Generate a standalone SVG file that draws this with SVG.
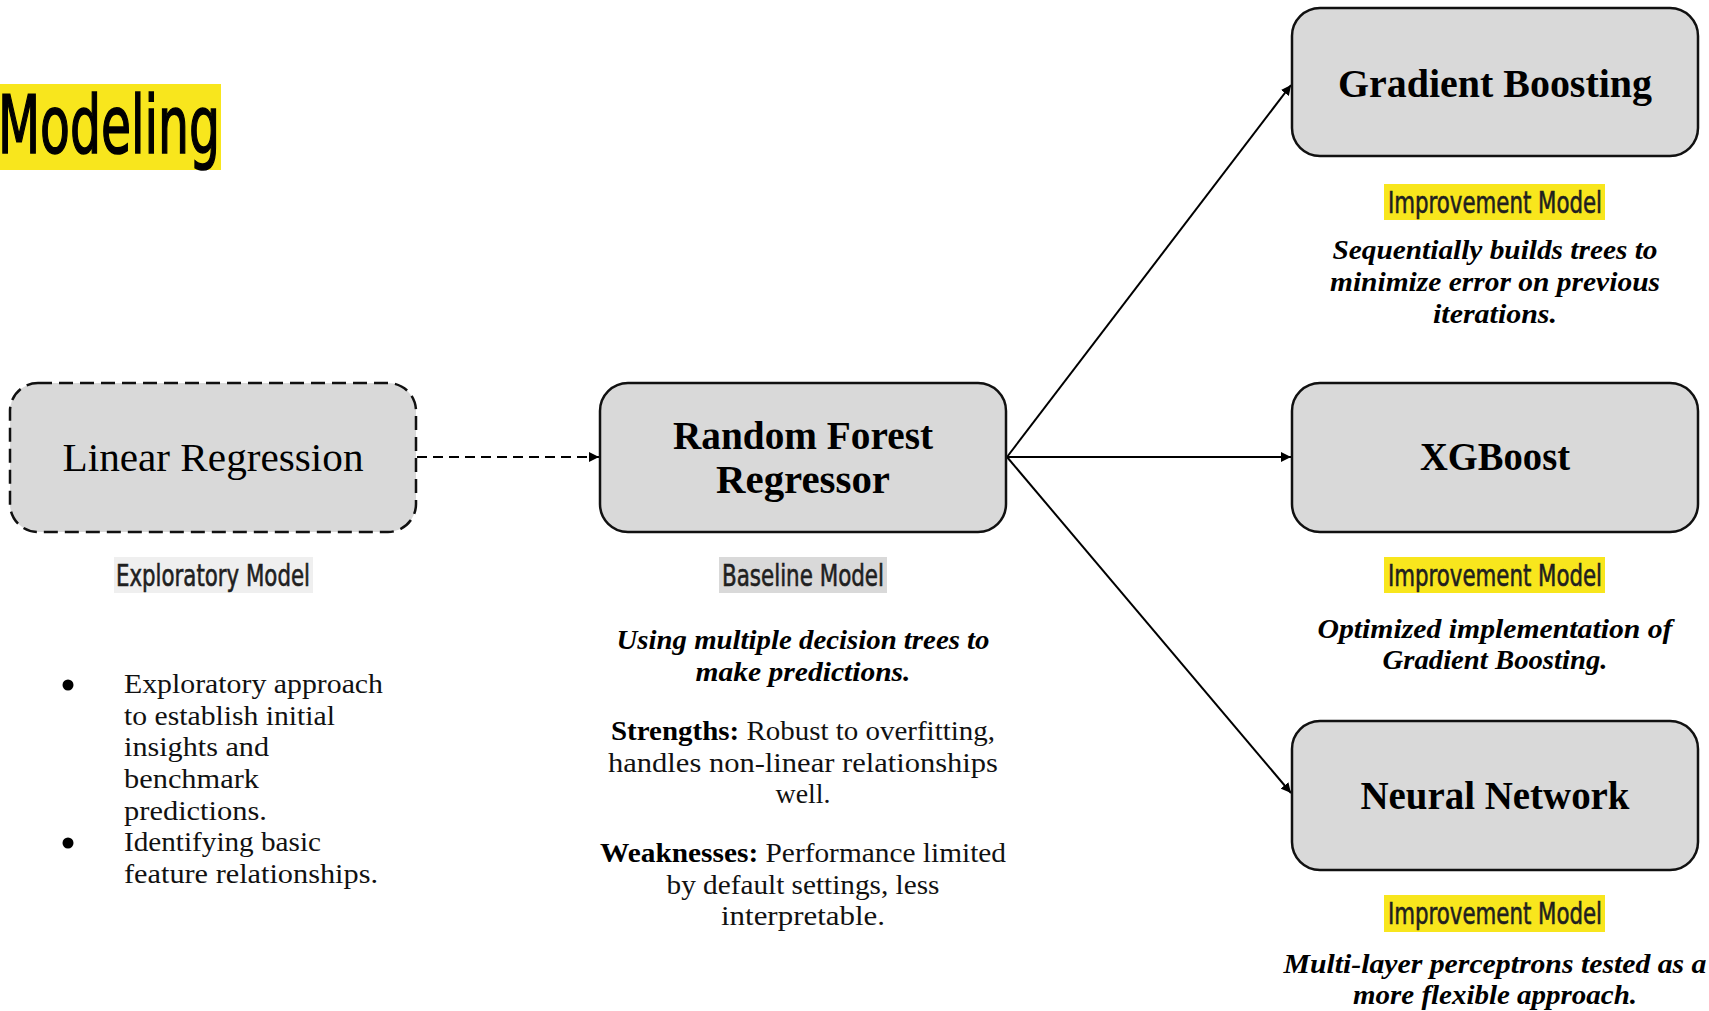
<svg xmlns="http://www.w3.org/2000/svg" width="1709" height="1011" viewBox="0 0 1709 1011">
<style>
.box{fill:#d9d9d9;stroke:#111;stroke-width:2.5}
.dash{stroke-dasharray:14 7}
.title{font-family:"Liberation Serif","Times New Roman",serif;font-weight:bold;font-size:40px;fill:#000;text-anchor:middle}
.reg{font-family:"Liberation Serif","Times New Roman",serif;font-size:41px;fill:#000;text-anchor:middle}
.lab{font-family:"Liberation Sans Narrow","DejaVu Sans Condensed","Liberation Sans",sans-serif;font-size:30px;fill:#1f1f1f;stroke:#1f1f1f;stroke-width:0.6;text-anchor:middle}
.desc{font-family:"Liberation Serif","Times New Roman",serif;font-weight:bold;font-style:italic;font-size:27px;fill:#000;text-anchor:middle}
.body{font-family:"Liberation Serif","Times New Roman",serif;font-size:28px;fill:#111;text-anchor:middle}
.bul{font-family:"Liberation Serif","Times New Roman",serif;font-size:28px;fill:#111}
.conn{stroke:#000;stroke-width:2;fill:none}
</style>
<defs>
<marker id="arr" viewBox="0 0 10 10" refX="10" refY="5" markerWidth="5" markerHeight="5" orient="auto" markerUnits="strokeWidth">
<path d="M0,0 L10,5 L0,10 z" fill="#000"/>
</marker>
</defs>
<rect width="1709" height="1011" fill="#fff"/>

<g id="heading">
<rect x="0" y="84" width="221" height="86" fill="#f8e61d"/>
<text x="-2" y="153" font-family="'Liberation Sans Narrow','DejaVu Sans Condensed',sans-serif" font-size="81" fill="#000" stroke="#000" stroke-width="1.6" textLength="222" lengthAdjust="spacingAndGlyphs">Modeling</text>
</g>

<g id="connectors">
<line class="conn" x1="417" y1="457" x2="599" y2="457" stroke-dasharray="10 6" marker-end="url(#arr)"/>
<line class="conn" x1="1007" y1="457" x2="1291" y2="85" marker-end="url(#arr)"/>
<line class="conn" x1="1007" y1="457" x2="1291" y2="457" marker-end="url(#arr)"/>
<line class="conn" x1="1007" y1="457" x2="1291" y2="793" marker-end="url(#arr)"/>
</g>

<g id="linear-regression">
<rect class="box dash" x="10" y="383" width="406" height="149" rx="28"/>
<text class="reg" x="213" y="471" textLength="301" lengthAdjust="spacingAndGlyphs">Linear Regression</text>
<rect x="114" y="557" width="199" height="36" fill="#efefef"/>
<text class="lab" x="213" y="586" textLength="194" lengthAdjust="spacingAndGlyphs">Exploratory Model</text>
<circle cx="68" cy="685" r="5.5" fill="#000"/>
<circle cx="68" cy="843" r="5.5" fill="#000"/>
<text class="bul" x="124" y="693" textLength="259" lengthAdjust="spacingAndGlyphs">Exploratory approach</text>
<text class="bul" x="124" y="725" textLength="211" lengthAdjust="spacingAndGlyphs">to establish initial</text>
<text class="bul" x="124" y="756" textLength="145" lengthAdjust="spacingAndGlyphs">insights and</text>
<text class="bul" x="124" y="788" textLength="135" lengthAdjust="spacingAndGlyphs">benchmark</text>
<text class="bul" x="124" y="820" textLength="143" lengthAdjust="spacingAndGlyphs">predictions.</text>
<text class="bul" x="124" y="851" textLength="197" lengthAdjust="spacingAndGlyphs">Identifying basic</text>
<text class="bul" x="124" y="883" textLength="254" lengthAdjust="spacingAndGlyphs">feature relationships.</text>
</g>

<g id="random-forest">
<rect class="box" x="600" y="383" width="406" height="149" rx="28"/>
<text class="title" x="803" y="449" textLength="260" lengthAdjust="spacingAndGlyphs">Random Forest</text>
<text class="title" x="803" y="493" textLength="174" lengthAdjust="spacingAndGlyphs">Regressor</text>
<rect x="719" y="557" width="168" height="36" fill="#d9d9d9"/>
<text class="lab" x="803" y="586" textLength="162" lengthAdjust="spacingAndGlyphs">Baseline Model</text>
<text class="desc" x="803" y="649" textLength="373" lengthAdjust="spacingAndGlyphs">Using multiple decision trees to</text>
<text class="desc" x="803" y="681" textLength="215" lengthAdjust="spacingAndGlyphs">make predictions.</text>
<text class="body" x="803" y="740" textLength="384" lengthAdjust="spacingAndGlyphs"><tspan font-weight="bold" fill="#000">Strengths:</tspan> Robust to overfitting,</text>
<text class="body" x="803" y="772" textLength="390" lengthAdjust="spacingAndGlyphs">handles non-linear relationships</text>
<text class="body" x="803" y="803" textLength="55" lengthAdjust="spacingAndGlyphs">well.</text>
<text class="body" x="803" y="862" textLength="406" lengthAdjust="spacingAndGlyphs"><tspan font-weight="bold" fill="#000">Weaknesses:</tspan> Performance limited</text>
<text class="body" x="803" y="894" textLength="273" lengthAdjust="spacingAndGlyphs">by default settings, less</text>
<text class="body" x="803" y="925" textLength="164" lengthAdjust="spacingAndGlyphs">interpretable.</text>
</g>

<g id="gradient-boosting">
<rect class="box" x="1292" y="8" width="406" height="148" rx="28"/>
<text class="title" x="1495" y="97" textLength="314" lengthAdjust="spacingAndGlyphs">Gradient Boosting</text>
<rect x="1384" y="184" width="221" height="36" fill="#f8e61d"/>
<text class="lab" x="1495" y="213" textLength="214" lengthAdjust="spacingAndGlyphs">Improvement Model</text>
<text class="desc" x="1495" y="259" textLength="325" lengthAdjust="spacingAndGlyphs">Sequentially builds trees to</text>
<text class="desc" x="1495" y="291" textLength="330" lengthAdjust="spacingAndGlyphs">minimize error on previous</text>
<text class="desc" x="1495" y="323" textLength="124" lengthAdjust="spacingAndGlyphs">iterations.</text>
</g>

<g id="xgboost">
<rect class="box" x="1292" y="383" width="406" height="149" rx="28"/>
<text class="title" x="1495" y="470" textLength="150" lengthAdjust="spacingAndGlyphs">XGBoost</text>
<rect x="1384" y="557" width="221" height="36" fill="#f8e61d"/>
<text class="lab" x="1495" y="586" textLength="214" lengthAdjust="spacingAndGlyphs">Improvement Model</text>
<text class="desc" x="1495" y="638" textLength="355" lengthAdjust="spacingAndGlyphs">Optimized implementation of</text>
<text class="desc" x="1495" y="669" textLength="225" lengthAdjust="spacingAndGlyphs">Gradient Boosting.</text>
</g>

<g id="neural-network">
<rect class="box" x="1292" y="721" width="406" height="149" rx="28"/>
<text class="title" x="1495" y="809" textLength="269" lengthAdjust="spacingAndGlyphs">Neural Network</text>
<rect x="1384" y="895" width="221" height="37" fill="#f8e61d"/>
<text class="lab" x="1495" y="924" textLength="214" lengthAdjust="spacingAndGlyphs">Improvement Model</text>
<text class="desc" x="1495" y="973" textLength="423" lengthAdjust="spacingAndGlyphs">Multi-layer perceptrons tested as a</text>
<text class="desc" x="1495" y="1004" textLength="284" lengthAdjust="spacingAndGlyphs">more flexible approach.</text>
</g>
</svg>
